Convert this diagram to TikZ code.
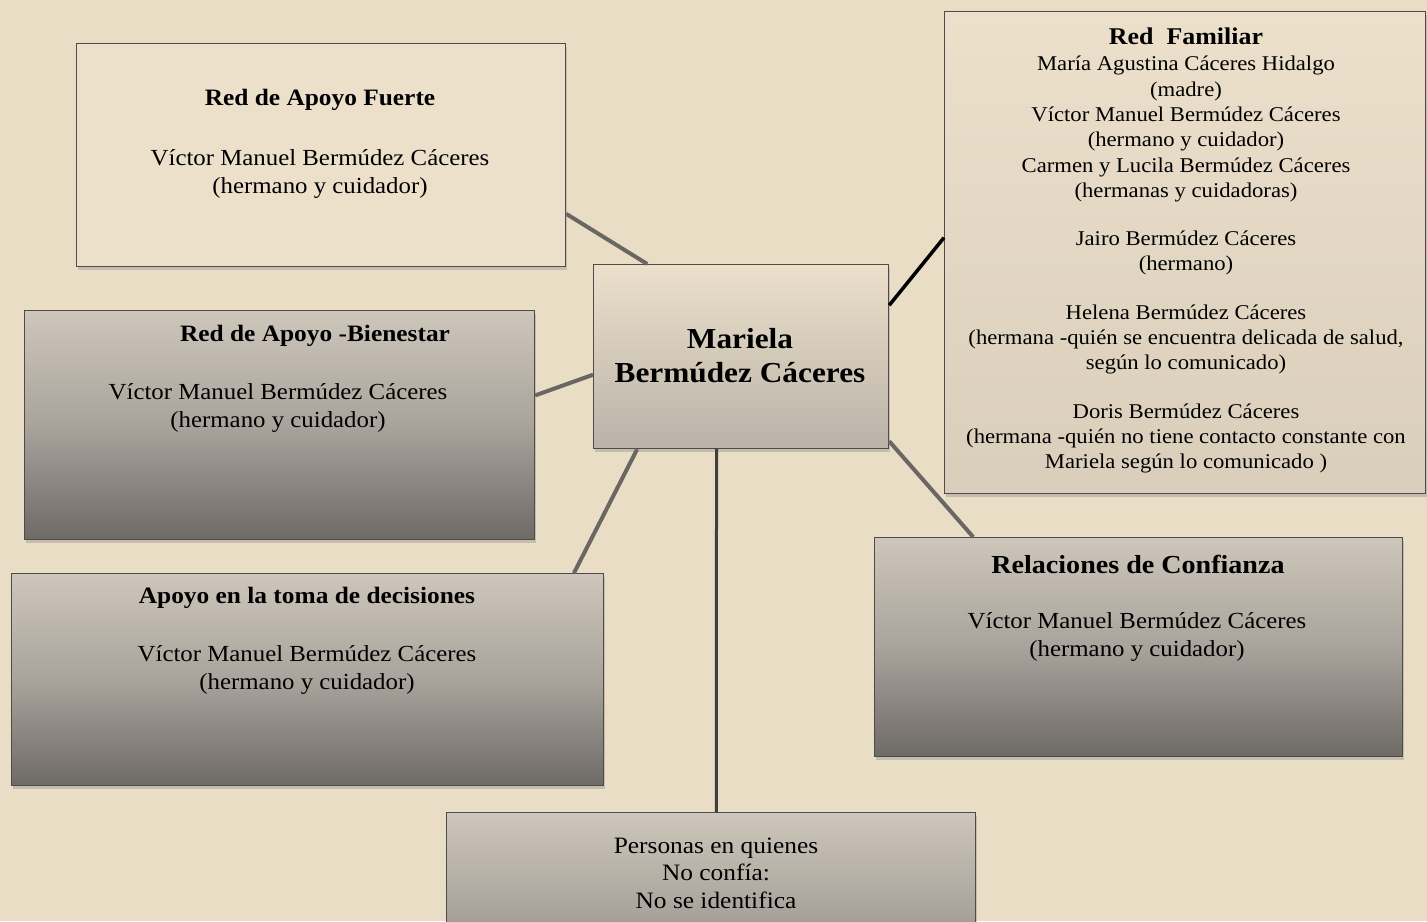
\documentclass[tikz,border=0pt]{standalone}
\usepackage{fontspec}
\setmainfont{Liberation Serif}[FakeStretch=1.08]
\usetikzlibrary{calc,shadows}
\definecolor{paper}{HTML}{EADDC6}
\definecolor{boxlight}{HTML}{ECE0CB}
\definecolor{gtop}{HTML}{CEC6BA}
\definecolor{gmid}{HTML}{A9A39C}
\definecolor{gbot}{HTML}{6E6A66}
\definecolor{linegray}{HTML}{6A6662}
\tikzset{
  boxbase/.style={rectangle, anchor=north west, inner sep=0pt, draw=black!70, line width=1.2pt,
    drop shadow={opacity=0.35, shadow xshift=1.5pt, shadow yshift=-3pt}},
  lightbox/.style={boxbase, fill=boxlight},
  midbox/.style={boxbase, top color=boxlight, bottom color=gtop!90!black},
  darkbox/.style={boxbase, top color=gtop, bottom color=gbot, middle color=gmid},
  txt/.style={align=center, inner sep=0pt, font=\fontsize{23}{28.5}\selectfont},
  ttl/.style={align=center, inner sep=0pt, font=\bfseries\fontsize{23.5}{28}\selectfont},
  famtxt/.style={align=center, inner sep=0pt, font=\fontsize{21}{25.3}\selectfont},
  conn/.style={draw=linegray, line width=4pt},
}
\begin{document}
\begin{tikzpicture}[x=1pt,y=-1pt]
\clip (0,0) rectangle (1427,921);
\fill[paper] (0,0) rectangle (1427,921);

% boxes
\node[lightbox, minimum width=489pt, minimum height=223pt] (fuerte) at (76,43) {};
\node[lightbox, minimum width=481pt, minimum height=482pt, bottom color=boxlight!92!black, top color=boxlight] (familiar) at (944,11) {};
\node[midbox, minimum width=295pt, minimum height=184pt] (mariela) at (593,264) {};
\node[darkbox, minimum width=510pt, minimum height=229pt] (bienestar) at (24,310) {};
\node[darkbox, minimum width=592pt, minimum height=212pt] (toma) at (11,573) {};
\node[darkbox, minimum width=528pt, minimum height=219pt] (confianza) at (874,537) {};
\node[darkbox, minimum width=529pt, minimum height=200pt] (personas) at (446,812) {};

% texts
\node[ttl] (fuerteT) at (320,100) {Red de Apoyo Fuerte};
\node[txt] (fuerteV) at (320,174) {Víctor Manuel Bermúdez Cáceres\\(hermano y cuidador)};

\node[ttl] (bienT) at (315,336) {Red de Apoyo -Bienestar};
\node[txt] (bienV) at (278,408) {Víctor Manuel Bermúdez Cáceres\\(hermano y cuidador)};

\node[align=center, inner sep=0pt, font=\bfseries\fontsize{29}{34}\selectfont] (marT) at (740,356) {Mariela\\Bermúdez Cáceres};

\node[ttl] (tomaT) at (307,598) {Apoyo en la toma de decisiones};
\node[txt] (tomaV) at (307,670) {Víctor Manuel Bermúdez Cáceres\\(hermano y cuidador)};

\node[ttl, font=\bfseries\fontsize{26}{28}\selectfont] (confT) at (1138,564) {Relaciones de Confianza};
\node[txt] (confV) at (1137,637) {Víctor Manuel Bermúdez Cáceres\\(hermano y cuidador)};

\node[txt, font=\fontsize{23.5}{27.5}\selectfont] (persT) at (716,873) {Personas en quienes\\No confía:\\No se identifica};

\node[ttl, font=\bfseries\fontsize{24}{28}\selectfont] (famT) at (1186,36) {Red\ \ Familiar};
\node[famtxt, anchor=north] (famV) at (1186,56) {María Agustina Cáceres Hidalgo\\(madre)\\Víctor Manuel Bermúdez Cáceres\\(hermano y cuidador)\\Carmen y Lucila Bermúdez Cáceres\\(hermanas y cuidadoras)\\[23pt]Jairo Bermúdez Cáceres\\(hermano)\\[23pt]Helena Bermúdez Cáceres\\(hermana -quién se encuentra delicada de salud,\\según lo comunicado)\\[23pt]Doris Bermúdez Cáceres\\(hermana -quién no tiene contacto constante con\\Mariela según lo comunicado )};

% connectors
\draw[conn] ($(fuerte.south east)!0.238!(fuerte.north east)$) -- ($(mariela.north west)!0.183!(mariela.north east)$);
\draw[conn, draw=black, line width=3.5pt] ($(familiar.north west)!0.469!(familiar.south west)$) -- ($(mariela.north east)!0.223!(mariela.south east)$);
\draw[conn] ($(bienestar.north east)!0.371!(bienestar.south east)$) -- ($(mariela.north west)!0.598!(mariela.south west)$);
\draw[conn] ($(toma.north west)!0.949!(toma.north east)$) -- ($(mariela.south west)!0.149!(mariela.south east)$);
\draw[conn, draw=black!75, line width=3pt] ($(mariela.south west)!0.417!(mariela.south east)$) -- ($(personas.north west)!0.510!(personas.north east)$);
\draw[conn] ($(mariela.north east)!0.957!(mariela.south east)$) -- ($(confianza.north west)!0.1875!(confianza.north east)$);
\end{tikzpicture}
\end{document}
